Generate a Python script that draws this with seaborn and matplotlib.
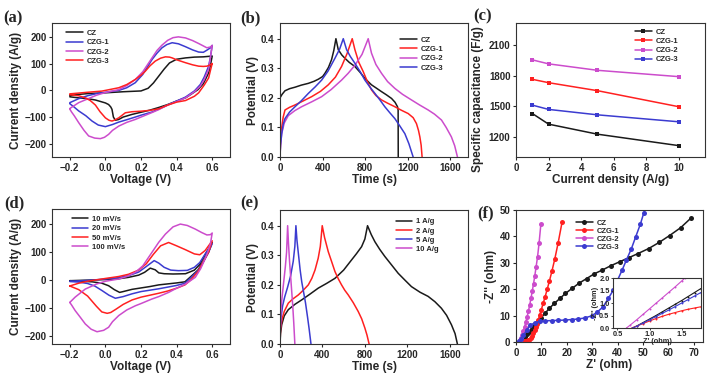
import seaborn as sns
import numpy as np
import matplotlib
matplotlib.use("Agg")
import matplotlib.pyplot as plt

# ---------- (a) CV of the four samples ----------
cz_v = [-0.2, -0.15, -0.1, 0.0, 0.1, 0.2, 0.24, 0.27, 0.3, 0.33, 0.36, 0.4, 0.45, 0.5, 0.55, 0.6,
        0.59, 0.58, 0.55, 0.52, 0.48, 0.45, 0.4, 0.35, 0.3, 0.25, 0.2, 0.15, 0.1, 0.075, 0.056,
        0.045, 0.037, 0.03, 0.018, 0.0, -0.056, -0.1, -0.15, -0.2]
cz_i = [-19, -15, -12, -9, -5, -2, 8, 28, 54, 80, 103, 117, 122, 125, 126, 129,
        95, 66, 25, 3, -15, -28, -40, -53, -64, -74, -82, -90, -100, -109, -112,
        -100, -71, -62, -53, -47, -36, -31, -28, -24]

czg1_v = [-0.2, -0.15, -0.1, -0.05, 0.0, 0.075, 0.12, 0.168, 0.21, 0.262, 0.29, 0.318, 0.345, 0.375,
          0.41, 0.45, 0.49, 0.524, 0.55, 0.57, 0.59, 0.6,
          0.59, 0.58, 0.555, 0.533, 0.5, 0.45, 0.4, 0.35, 0.3, 0.262, 0.2, 0.168, 0.12, 0.075,
          0.04, 0.0, -0.04, -0.075, -0.11, -0.15, -0.18, -0.2]
czg1_i = [-46, -31, -20, -12, -7, 0, 10, 29, 60, 116, 140, 160, 172, 179,
          175, 164, 152, 144, 143, 151, 160, 169,
          125, 91, 50, 22, -2, -25, -40, -55, -70, -81, -93, -100, -110, -119,
          -128, -136, -130, -115, -95, -77, -60, -50]

czg2_v = [-0.2, -0.15, -0.1, -0.05, 0.0, 0.075, 0.12, 0.168, 0.21, 0.262, 0.29, 0.318, 0.35, 0.38,
          0.41, 0.45, 0.49, 0.524, 0.55, 0.57, 0.59, 0.6,
          0.59, 0.58, 0.555, 0.533, 0.5, 0.45, 0.4, 0.35, 0.3, 0.262, 0.2, 0.168, 0.12, 0.075,
          0.04, 0.018, -0.005, -0.028, -0.06, -0.094, -0.12, -0.15, -0.175, -0.19, -0.2]
czg2_i = [-68, -46, -32, -18, -8, 3, 18, 41, 70, 122, 150, 170, 188, 198,
          201, 197, 187, 176, 167, 160, 163, 169,
          125, 80, 40, 16, -5, -28, -42, -55, -72, -83, -100, -109, -120, -134,
          -150, -165, -176, -181, -179, -171, -150, -121, -95, -81, -70]

czg3_v = [-0.2, -0.1, -0.019, 0.075, 0.12, 0.168, 0.2, 0.224, 0.25, 0.28, 0.31, 0.337, 0.36, 0.375,
          0.4, 0.45, 0.49, 0.524, 0.55, 0.57, 0.59, 0.6,
          0.59, 0.58, 0.555, 0.524, 0.5, 0.45, 0.4, 0.35, 0.3, 0.25, 0.2, 0.15, 0.112, 0.075,
          0.05, 0.037, 0.02, 0.0, -0.03, -0.056, -0.085, -0.113, -0.15, -0.2]
czg3_i = [-13, -7, -2.5, 10, 22, 41, 57, 72, 92, 110, 121, 126, 125, 122,
          115, 104, 96, 91, 90, 91, 96, 101,
          75, 47, 20, -9, -22, -38, -44, -55, -69, -75, -78, -80, -84, -103,
          -112, -115, -112, -103, -80, -55, -38, -28, -20, -16]

# ---------- (b) GCD of the four samples ----------
gcd_cz_t = [0, 20, 47, 90, 141, 200, 266, 320, 360, 400, 422, 455, 484, 505, 525,
            547, 580, 609, 650, 703, 750, 797, 830, 859, 900, 953, 1000, 1047, 1080, 1103, 1109, 1110]
gcd_cz_v = [0.2, 0.212, 0.224, 0.231, 0.236, 0.243, 0.249, 0.256, 0.263, 0.272, 0.283, 0.303, 0.329, 0.36, 0.4,
            0.363, 0.345, 0.334, 0.32, 0.306, 0.287, 0.266, 0.254, 0.244, 0.234, 0.221, 0.21, 0.198,
            0.185, 0.17, 0.159, 0.0]
gcd_czg1_t = [0, 5, 16, 30, 47, 90, 141, 220, 297, 380, 453, 520, 578, 630, 678,
              703, 740, 781, 820, 859, 900, 953, 1010, 1078, 1140, 1203, 1250, 1281, 1300, 1313, 1325, 1334]
gcd_czg1_v = [0, 0.05, 0.10, 0.135, 0.159, 0.168, 0.176, 0.19, 0.204, 0.222, 0.244, 0.27, 0.306, 0.35, 0.4,
              0.363, 0.32, 0.289, 0.255, 0.227, 0.208, 0.193, 0.182, 0.17, 0.158, 0.147, 0.133, 0.113,
              0.09, 0.068, 0.04, 0.0]
gcd_czg2_t = [0, 5, 16, 40, 78, 140, 203, 300, 391, 480, 578, 640, 703, 770, 828,
              859, 900, 953, 1010, 1078, 1150, 1234, 1310, 1391, 1450, 1516, 1560, 1609, 1640, 1666]
gcd_czg2_v = [0, 0.04, 0.079, 0.115, 0.14, 0.157, 0.17, 0.187, 0.204, 0.228, 0.26, 0.283, 0.31, 0.347, 0.4,
              0.351, 0.313, 0.283, 0.255, 0.232, 0.212, 0.193, 0.176, 0.159, 0.145, 0.125, 0.1, 0.068,
              0.038, 0.0]
gcd_czg3_t = [0, 5, 16, 30, 47, 90, 141, 200, 266, 330, 391, 450, 516, 560, 594,
              625, 660, 703, 750, 797, 845, 891, 940, 984, 1030, 1078, 1125, 1172, 1210, 1250]
gcd_czg3_v = [0, 0.04, 0.079, 0.11, 0.13, 0.152, 0.17, 0.19, 0.215, 0.237, 0.26, 0.29, 0.334, 0.365, 0.4,
              0.363, 0.34, 0.317, 0.29, 0.26, 0.236, 0.215, 0.192, 0.17, 0.15, 0.13, 0.105, 0.079,
              0.045, 0.0]

# ---------- (c) specific capacitance ----------
density = [1, 2, 5, 10]
cap_cz = [1429, 1325, 1227, 1115]
cap_czg1 = [1763, 1730, 1652, 1495]
cap_czg2 = [1953, 1914, 1851, 1789]
cap_czg3 = [1511, 1469, 1416, 1348]

# ---------- (d) CV at different scan rates ----------
s10_v = [-0.2, -0.1, 0.0, 0.075, 0.13, 0.187, 0.22, 0.252, 0.28, 0.3, 0.33, 0.38, 0.45, 0.5, 0.53, 0.56, 0.6,
         0.58, 0.55, 0.52, 0.48, 0.447, 0.4, 0.3, 0.25, 0.2, 0.15, 0.1, 0.08, 0.05, 0.018, -0.02,
         -0.075, -0.14, -0.2]
s10_i = [-3, -1, 1, 4, 9, 17, 27, 42, 36, 25, 22, 21, 22, 35, 55, 90, 134,
         100, 65, 35, 12, -7, -11, -18, -24, -29, -34, -42, -45, -35, -21, -12, -7, -5, -3]
s20_v = [-0.2, -0.1, 0.0, 0.075, 0.13, 0.187, 0.23, 0.274, 0.3, 0.33, 0.367, 0.41, 0.46, 0.5, 0.53, 0.56, 0.6,
         0.58, 0.55, 0.52, 0.48, 0.447, 0.4, 0.3, 0.2, 0.15, 0.1, 0.056, 0.02, -0.02, -0.06, -0.1,
         -0.15, -0.2]
s20_i = [-5, -2, 3, 8, 15, 28, 48, 69, 60, 45, 35, 33, 34, 45, 62, 92, 130,
         100, 65, 33, 8, -12, -20, -32, -42, -50, -60, -66, -55, -38, -22, -13, -8, -6]
s50_v = [-0.2, -0.15, -0.1, -0.05, 0.0, 0.075, 0.13, 0.187, 0.23, 0.27, 0.31, 0.355, 0.4, 0.45, 0.5, 0.53,
         0.56, 0.6,
         0.58, 0.55, 0.52, 0.48, 0.447, 0.4, 0.35, 0.3, 0.25, 0.2, 0.15, 0.1, 0.06, 0.03, 0.01, -0.02,
         -0.05, -0.1, -0.15, -0.2]
s50_i = [-22, -12, -5, 0, 5, 12, 20, 35, 58, 92, 122, 134, 122, 108, 93, 90, 105, 140,
         100, 65, 30, 0, -18, -30, -40, -48, -55, -62, -72, -88, -105, -117, -120, -115, -95, -58, -35, -22]
s100_v = [-0.2, -0.17, -0.113, -0.05, 0.0, 0.075, 0.12, 0.168, 0.21, 0.262, 0.3, 0.337, 0.38, 0.421, 0.46,
          0.505, 0.54, 0.57, 0.59, 0.6,
          0.59, 0.575, 0.56, 0.535, 0.505, 0.45, 0.4, 0.355, 0.3, 0.26, 0.2, 0.168, 0.12, 0.075, 0.04,
          0.018, -0.01, -0.047, -0.08, -0.113, -0.14, -0.17, -0.19, -0.2]
s100_i = [-81, -62, -33, -15, -5, 3, 12, 27, 50, 99, 135, 164, 190, 200, 195, 182, 170, 161, 162, 168,
          130, 100, 75, 40, 9, -15, -30, -45, -60, -69, -85, -93, -108, -128, -150,
          -170, -181, -186, -177, -158, -135, -110, -90, -81]

# ---------- (e) GCD at different current densities ----------
g1_t = [0, 5, 16, 40, 78, 140, 204, 280, 361, 440, 518, 600, 674, 720, 769, 800, 825,
        860, 894, 940, 988, 1050, 1114, 1180, 1239, 1320, 1396, 1460, 1521, 1570, 1616, 1650, 1672]
g1_v = [0, 0.035, 0.065, 0.095, 0.116, 0.134, 0.149, 0.168, 0.189, 0.205, 0.222, 0.25, 0.284, 0.305, 0.329,
        0.355, 0.4, 0.37, 0.346, 0.32, 0.296, 0.268, 0.239, 0.215, 0.194, 0.175, 0.161, 0.143, 0.121,
        0.097, 0.065, 0.035, 0.0]
g2_t = [0, 5, 20, 40, 78, 120, 173, 220, 267, 300, 330, 360, 380, 398,
        420, 455, 490, 518, 550, 580, 610, 643, 690, 737, 770, 800, 820, 840]
g2_v = [0, 0.05, 0.085, 0.11, 0.138, 0.152, 0.166, 0.182, 0.2, 0.222, 0.25, 0.29, 0.33, 0.4,
        0.36, 0.312, 0.275, 0.245, 0.22, 0.2, 0.182, 0.166, 0.14, 0.11, 0.085, 0.054, 0.03, 0.0]
g5_t = [0, 3, 10, 25, 45, 70, 100, 125, 140, 150, 160, 175, 190, 205, 220, 240, 260, 275, 292]
g5_v = [0, 0.05, 0.09, 0.13, 0.16, 0.19, 0.23, 0.28, 0.33, 0.4, 0.35, 0.3, 0.25, 0.21, 0.18, 0.14, 0.09,
        0.05, 0.0]
g10_t = [0, 3, 10, 20, 35, 50, 62, 72, 80, 90, 100, 110, 120, 130, 140]
g10_v = [0, 0.07, 0.12, 0.16, 0.21, 0.26, 0.31, 0.4, 0.34, 0.28, 0.23, 0.18, 0.13, 0.07, 0.0]

# ---------- (f) Nyquist ----------
eis_cz_re = [1.3, 1.8, 2.4, 3.0, 3.7, 4.4, 5.2, 6.2, 7.2, 8.5, 9.8, 11.4, 13.1, 15.1, 17.3, 19.5, 22.1,
             24.9, 27.8, 30.8, 33.9, 37.4, 40.9, 44.4, 48.1, 52.3, 56.4, 60.5, 64.9, 68.8]
eis_cz_im = [0, 0.2, 0.6, 1.2, 2.0, 2.9, 3.9, 5.0, 6.1, 7.6, 9.1, 10.8, 12.7, 14.6, 16.5, 18.4, 20.3,
             22.3, 24.0, 25.8, 27.2, 28.9, 30.4, 31.9, 33.5, 35.4, 37.7, 40.3, 43.3, 46.8]
eis_czg1_re = [2.6, 3.3, 4.0, 4.6, 5.2, 5.8, 6.3, 6.8, 7.3, 7.8, 8.3, 8.8, 9.4, 10.0, 10.7, 11.5, 12.3,
               13.2, 14.2, 15.3, 16.6, 18.2]
eis_czg1_im = [0, 0.3, 0.45, 0.6, 0.9, 1.5, 2.4, 3.4, 4.5, 5.7, 7.0, 8.5, 10.3, 12.3, 14.6, 17.2, 20.0,
               23.2, 27.0, 31.5, 37.5, 45.6]
eis_czg2_re = [1.0, 1.4, 1.9, 2.4, 2.9, 3.4, 3.9, 4.4, 4.9, 5.4, 5.9, 6.4, 6.9, 7.4, 7.9, 8.5, 9.1, 9.8]
eis_czg2_im = [0, 0.7, 1.6, 2.8, 4.2, 5.8, 7.6, 9.6, 11.7, 14.0, 16.5, 19.2, 22.0, 25.0, 28.3, 32.3,
               37.5, 44.6]
eis_czg3_re = [1.2, 1.8, 2.9, 4.2, 5.5, 7.5, 9.4, 11.4, 14.0, 16.6, 19.3, 21.9, 24.5, 27.1, 29.8, 32.1,
               34.3, 36.4, 38.3, 40.0, 41.8, 43.5, 45.5, 47.2, 49.0, 50.3, 51.2]
eis_czg3_im = [0.2, 1.0, 2.5, 4.4, 6.3, 7.3, 7.8, 8.0, 8.1, 8.2, 8.3, 8.5, 8.7, 9.1, 9.9, 11.4,
               13.3, 16.5, 19.6, 23.4, 27.2, 31.0, 35.4, 39.9, 44.6, 48.7, 51.0]

# inset (high-frequency zoom)
ins_cz_re = [0.74, 0.8, 0.9, 1.0, 1.1, 1.2, 1.3, 1.4, 1.5, 1.6, 1.7, 1.8]
ins_cz_im = [0, 0.08, 0.22, 0.36, 0.5, 0.65, 0.8, 0.95, 1.1, 1.26, 1.42, 1.58]
ins_czg1_re = [0.72, 0.8, 0.9, 1.0, 1.1, 1.2, 1.3, 1.4, 1.5, 1.6, 1.7, 1.8]
ins_czg1_im = [0, 0.08, 0.18, 0.28, 0.38, 0.47, 0.55, 0.62, 0.69, 0.75, 0.8, 0.85]
ins_czg2_re = [0.64, 0.7, 0.8, 0.9, 1.0, 1.1, 1.2, 1.3, 1.4, 1.5, 1.55]
ins_czg2_im = [0, 0.12, 0.33, 0.55, 0.77, 0.99, 1.21, 1.43, 1.65, 1.88, 2.0]
ins_czg3_re = [0.73, 0.8, 0.9, 1.0, 1.1, 1.2, 1.3, 1.4, 1.5, 1.6, 1.7, 1.8]
ins_czg3_im = [0, 0.07, 0.2, 0.33, 0.46, 0.59, 0.72, 0.86, 1.0, 1.14, 1.28, 1.42]

BLACK = "#1a1a1a"
RED = "#ff2020"
MAG = "#cc4ccc"
BLUE = "#3b3bd0"

sns.set_style("ticks")
plt.rcParams["font.family"] = ["Liberation Sans", "DejaVu Sans"]
plt.rcParams["font.weight"] = "bold"
plt.rcParams["axes.labelweight"] = "bold"
plt.rcParams["axes.linewidth"] = 0.8
plt.rcParams["axes.edgecolor"] = "#333333"

fig = plt.figure(figsize=(7.13, 3.81), dpi=100)
ax_a = fig.add_axes([0.0729, 0.5879, 0.2497, 0.3517])
ax_b = fig.add_axes([0.3927, 0.5879, 0.2637, 0.3517])
ax_c = fig.add_axes([0.7237, 0.5879, 0.2651, 0.3517])
ax_d = fig.add_axes([0.0729, 0.0971, 0.2497, 0.3543])
ax_e = fig.add_axes([0.3927, 0.0971, 0.2637, 0.3517])
ax_f = fig.add_axes([0.7237, 0.1024, 0.2623, 0.3465])


def line(ax, x, y, c, name, **kw):
    sns.lineplot(x=x, y=y, sort=False, estimator=None, ax=ax, color=c, lw=1.1, label=name, **kw)


def style(ax, xlabel, ylabel):
    ax.set_xlabel(xlabel, fontsize=8.5, labelpad=1)
    ax.set_ylabel(ylabel, fontsize=8.5, labelpad=1.5)
    ax.tick_params(axis="both", labelsize=7, length=2.5, width=0.8, pad=1.5, direction="out")
    for lab in ax.get_xticklabels() + ax.get_yticklabels():
        lab.set_fontweight("bold")


def leg(ax, x, y, spacing=0.25, **kw):
    ax.legend(loc="upper left", bbox_to_anchor=(x, y), frameon=False,
              handlelength=2.2, labelspacing=spacing, borderaxespad=0, borderpad=0,
              handletextpad=0.5, prop={"weight": "bold", "size": 5.5}, **kw)


# (a)
line(ax_a, cz_v, cz_i, BLACK, "CZ")
line(ax_a, czg1_v, czg1_i, BLUE, "CZG-1")
line(ax_a, czg2_v, czg2_i, MAG, "CZG-2")
line(ax_a, czg3_v, czg3_i, RED, "CZG-3")
ax_a.set_xlim(-0.3, 0.7)
ax_a.set_ylim(-250, 253)
ax_a.set_xticks([-0.2, 0.0, 0.2, 0.4, 0.6])
ax_a.set_yticks([-200, -100, 0, 100, 200])
style(ax_a, "Voltage (V)", "Current density (A/g)")
leg(ax_a, 0.08, 0.95)

# (b)
line(ax_b, gcd_cz_t, gcd_cz_v, BLACK, "CZ")
line(ax_b, gcd_czg1_t, gcd_czg1_v, RED, "CZG-1")
line(ax_b, gcd_czg2_t, gcd_czg2_v, MAG, "CZG-2")
line(ax_b, gcd_czg3_t, gcd_czg3_v, BLUE, "CZG-3")
ax_b.set_xlim(0, 1765)
ax_b.set_ylim(0, 0.453)
ax_b.set_xticks([0, 400, 800, 1200, 1600])
ax_b.set_yticks([0.0, 0.1, 0.2, 0.3, 0.4])
ax_b.yaxis.set_major_formatter(matplotlib.ticker.FormatStrFormatter("%.1f"))
style(ax_b, "Time (s)", "Potential (V)")
leg(ax_b, 0.64, 0.9)

# (c)
sq = dict(marker="s", markersize=3.2, markeredgewidth=0)
line(ax_c, density, cap_cz, BLACK, "CZ", **sq)
line(ax_c, density, cap_czg1, RED, "CZG-1", **sq)
line(ax_c, density, cap_czg2, MAG, "CZG-2", **sq)
line(ax_c, density, cap_czg3, BLUE, "CZG-3", **sq)
ax_c.set_xlim(0, 11.6)
ax_c.set_ylim(1004, 2313)
ax_c.set_xticks([0, 2, 4, 6, 8, 10])
ax_c.set_yticks([1200, 1500, 1800, 2100])
style(ax_c, "Current density (A/g)", "Specific capacitance (F/g)")
ax_c.yaxis.set_label_coords(-0.17, 0.43)
leg(ax_c, 0.63, 0.96)

# (d)
line(ax_d, s10_v, s10_i, BLACK, "10 mV/s")
line(ax_d, s20_v, s20_i, BLUE, "20 mV/s")
line(ax_d, s50_v, s50_i, RED, "50 mV/s")
line(ax_d, s100_v, s100_i, MAG, "100 mV/s")
ax_d.set_xlim(-0.3, 0.7)
ax_d.set_ylim(-230, 254)
ax_d.set_xticks([-0.2, 0.0, 0.2, 0.4, 0.6])
ax_d.set_yticks([-200, -100, 0, 100, 200])
style(ax_d, "Voltage (V)", "Current density (A/g)")
leg(ax_d, 0.11, 0.95)

# (e)
line(ax_e, g1_t, g1_v, BLACK, "1 A/g")
line(ax_e, g2_t, g2_v, RED, "2 A/g")
line(ax_e, g5_t, g5_v, BLUE, "5 A/g")
line(ax_e, g10_t, g10_v, MAG, "10 A/g")
ax_e.set_xlim(0, 1772)
ax_e.set_ylim(0, 0.453)
ax_e.set_xticks([0, 400, 800, 1200, 1600])
ax_e.set_yticks([0.0, 0.1, 0.2, 0.3, 0.4])
ax_e.yaxis.set_major_formatter(matplotlib.ticker.FormatStrFormatter("%.1f"))
style(ax_e, "Time (s)", "Potential (V)")
leg(ax_e, 0.615, 0.94)

# (f)
dot = dict(marker="o", markersize=3.6, markeredgewidth=0)
line(ax_f, eis_cz_re, eis_cz_im, BLACK, "CZ", **dot)
line(ax_f, eis_czg1_re, eis_czg1_im, RED, "CZG-1", **dot)
line(ax_f, eis_czg2_re, eis_czg2_im, MAG, "CZG-2", **dot)
line(ax_f, eis_czg3_re, eis_czg3_im, BLUE, "CZG-3", **dot)
ax_f.set_xlim(0, 73.7)
ax_f.set_ylim(0, 50)
ax_f.set_xticks(range(0, 71, 10))
ax_f.set_yticks(range(0, 51, 10))
style(ax_f, "Z' (ohm)", "-Z'' (ohm)")
leg(ax_f, 0.32, 0.93, spacing=0.1)

ax_in = fig.add_axes([0.8597, 0.1391, 0.1234, 0.1312])
small = dict(marker="o", markersize=1.4, markeredgewidth=0)
sns.lineplot(x=ins_cz_re, y=ins_cz_im, sort=False, estimator=None, ax=ax_in, color=BLACK, lw=0.8, **small)
sns.lineplot(x=ins_czg1_re, y=ins_czg1_im, sort=False, estimator=None, ax=ax_in, color=RED, lw=0.8, **small)
sns.lineplot(x=ins_czg2_re, y=ins_czg2_im, sort=False, estimator=None, ax=ax_in, color=MAG, lw=0.8, **small)
sns.lineplot(x=ins_czg3_re, y=ins_czg3_im, sort=False, estimator=None, ax=ax_in, color=BLUE, lw=0.8, **small)
ax_in.set_xlim(0.43, 1.8)
ax_in.set_ylim(0, 2.0)
ax_in.set_xticks([0.5, 1.0, 1.5])
ax_in.set_yticks([0.0, 0.5, 1.0, 1.5, 2.0])
ax_in.xaxis.set_major_formatter(matplotlib.ticker.FormatStrFormatter("%.1f"))
ax_in.yaxis.set_major_formatter(matplotlib.ticker.FormatStrFormatter("%.1f"))
ax_in.tick_params(axis="both", labelsize=5.3, length=1.5, width=0.6, pad=1)
ax_in.set_xlabel("Z' (ohm)", fontsize=5.3, labelpad=0)
ax_in.set_ylabel("-Z'' (ohm)", fontsize=5.3, labelpad=0)

# panel letters
letter = dict(fontsize=12, fontweight="bold", family=["Liberation Serif", "DejaVu Serif"],
              ha="left", va="center")
fig.text(0.004, 0.953, "(a)", **letter)
fig.text(0.337, 0.953, "(b)", **letter)
fig.text(0.664, 0.958, "(c)", **letter)
fig.text(0.006, 0.465, "(d)", **letter)
fig.text(0.337, 0.465, "(e)", **letter)
fig.text(0.669, 0.441, "(f)", **letter)

fig.savefig("out.png", dpi=100)
